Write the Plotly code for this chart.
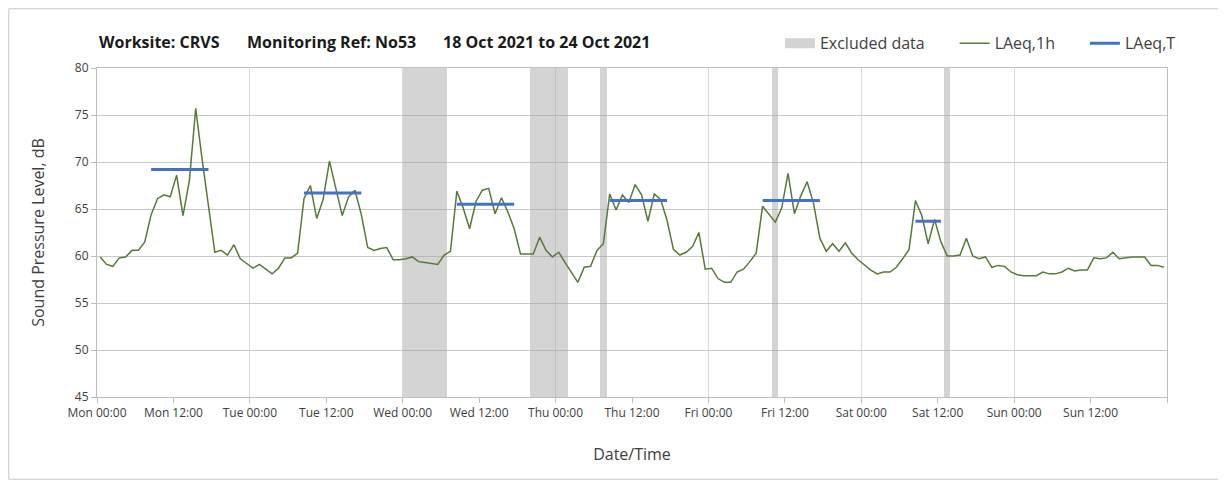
import numpy as np
import plotly.graph_objects as go

# hourly LAeq,1h values, Mon 00:00 .. Sun 23:00 (plotted mid-hour)
laeq_1h = [
    59.9, 59.1, 58.9, 59.8, 59.9, 60.6, 60.6, 61.5, 64.4, 66.1, 66.5, 66.3, 68.6, 64.3, 68.0, 75.7,
    70.3, 65.3, 60.4, 60.6, 60.1, 61.2, 59.7, 59.2, 58.7, 59.1, 58.6, 58.1, 58.7, 59.8,
    59.8, 60.3, 66.1, 67.5, 64.0, 66.0, 70.1, 67.2, 64.3, 66.3, 67.0, 64.4, 60.9, 60.6, 60.8, 60.9,
    59.6, 59.6, 59.7, 59.9, 59.4, 59.3, 59.2, 59.1, 60.1, 60.5, 66.9, 65.1, 62.9, 65.8,
    67.0, 67.2, 64.5, 66.2, 64.7, 62.9, 60.2, 60.2, 60.2, 62.0, 60.6, 59.9, 60.4, 59.3, 58.3, 57.2,
    58.8, 58.9, 60.6, 61.3, 66.6, 64.9, 66.5, 65.7, 67.6, 66.5, 63.7, 66.6, 66.0, 63.8,
    60.7, 60.1, 60.4, 61.0, 62.5, 58.6, 58.7, 57.6, 57.2, 57.2, 58.3, 58.6, 59.4, 60.3, 65.3, 64.5,
    63.6, 65.1, 68.8, 64.5, 66.4, 67.9, 65.6, 61.9, 60.5, 61.3, 60.5, 61.4, 60.3, 59.6, 59.0, 58.5,
    58.1, 58.3, 58.3, 58.8, 59.7, 60.7, 65.9, 64.3, 61.3, 63.9, 61.5, 60.0, 60.0, 60.1, 61.9, 60.0,
    59.7, 59.9, 58.8, 59.0,
    58.9, 58.3, 58.0, 57.9, 57.9, 57.9, 58.3, 58.1, 58.1, 58.3, 58.7, 58.4, 58.5, 58.5, 59.8, 59.7,
    59.8, 60.4, 59.7, 59.8, 59.9, 59.9, 59.9, 59.0, 59.0, 58.8,
]

# LAeq,T over the daytime period (hours from Mon 00:00)
laeq_t_start = [8.5, 32.5, 56.5, 80.5, 104.5, 128.5]
laeq_t_end = [17.5, 41.5, 65.5, 89.5, 113.5, 132.5]
laeq_t = [69.2, 66.7, 65.5, 65.9, 65.9, 63.7]

# excluded periods (hours from Mon 00:00)
excl_start = [48, 68, 79, 106, 133]
excl_end = [55, 74, 80, 107, 134]

days = ["Mon", "Tue", "Wed", "Thu", "Fri", "Sat", "Sun"]
tick_text = [f"{d} {h}" for d in days for h in ["00:00", "12:00"]] + [""]

hours = np.arange(len(laeq_1h)) + 0.5
pad = "\u00a0" * 6  # extra room between legend entries

fig = go.Figure()

# Excluded data bands
fig.add_trace(go.Bar(
    x=[(s + e) / 2 for s, e in zip(excl_start, excl_end)],
    y=[80 - 45] * len(excl_start),
    base=45,
    width=[e - s for s, e in zip(excl_start, excl_end)],
    marker=dict(color="rgba(160,160,160,0.45)", line=dict(width=0)),
    showlegend=False,
    hoverinfo="skip",
))
# legend entry for the bands
fig.add_trace(go.Scatter(
    x=[None], y=[None], mode="lines", name="Excluded data" + pad,
    line=dict(color="#d3d3d3", width=10),
))

fig.add_trace(go.Scatter(
    x=hours, y=laeq_1h, mode="lines", name="LAeq,1h" + pad,
    line=dict(color="#577a3a", width=1.5),
))

tx, ty = [], []
for s, e, v in zip(laeq_t_start, laeq_t_end, laeq_t):
    tx += [s, e, None]
    ty += [v, v, None]
fig.add_trace(go.Scatter(
    x=tx, y=ty, mode="lines", name="LAeq,T",
    line=dict(color="#4472c4", width=3),
))

font = "Open Sans"
# page body adds 8px around the figure, keep it inside the window
fig.update_layout(
    width=1218, height=473,
    margin=dict(l=89, r=59, t=60, b=84),
    paper_bgcolor="white", plot_bgcolor="white",
    font=dict(family=font, size=12, color="#404040"),
    legend=dict(orientation="h", x=1.013, xanchor="right", y=1.075, yanchor="middle",
                font=dict(size=16, color="#404040"), itemwidth=30, traceorder="normal"),
    bargap=0,
)

fig.update_xaxes(
    range=[0, 168],
    tickvals=list(range(0, 169, 12)), ticktext=tick_text,
    ticks="outside", ticklen=5, tickcolor="#bfbfbf",
    showline=True, linecolor="#bfbfbf", mirror=True,
    showgrid=False, zeroline=False,
    minor=dict(tickvals=list(range(0, 169, 24)), showgrid=True, gridcolor="#dadada", ticks=""),
    tickfont=dict(size=12, color="#404040"),
    title=dict(text="Date/Time", font=dict(size=16, color="#404040"), standoff=28),
)
fig.update_yaxes(
    range=[45, 80], dtick=5,
    ticks="outside", ticklen=5, tickcolor="#bfbfbf",
    showline=True, linecolor="#bfbfbf", mirror=True,
    showgrid=True, gridcolor="#c8c8c8", zeroline=False,
    tickfont=dict(size=12, color="#404040"),
    title=dict(text="Sound Pressure Level, dB", font=dict(size=16, color="#404040"), standoff=26),
)

# title pieces
title_parts = ["Worksite: CRVS", "Monitoring Ref: No53", "18 Oct 2021 to 24 Oct 2021"]
title_x = [0.0, 0.138, 0.3215]
for txt, xp in zip(title_parts, title_x):
    fig.add_annotation(
        text=f"<b>{txt}</b>", xref="paper", yref="paper", x=xp, y=1.079,
        xanchor="left", yanchor="middle", showarrow=False,
        font=dict(family=font, size=16, color="#1a1a1a"),
    )

# outer chart border
fig.add_shape(type="rect", xref="paper", yref="paper",
              x0=-0.0825, x1=1.0495, y0=-0.25, y1=1.18,
              line=dict(color="#c8c8c8", width=1))

fig.write_html("out.html")
